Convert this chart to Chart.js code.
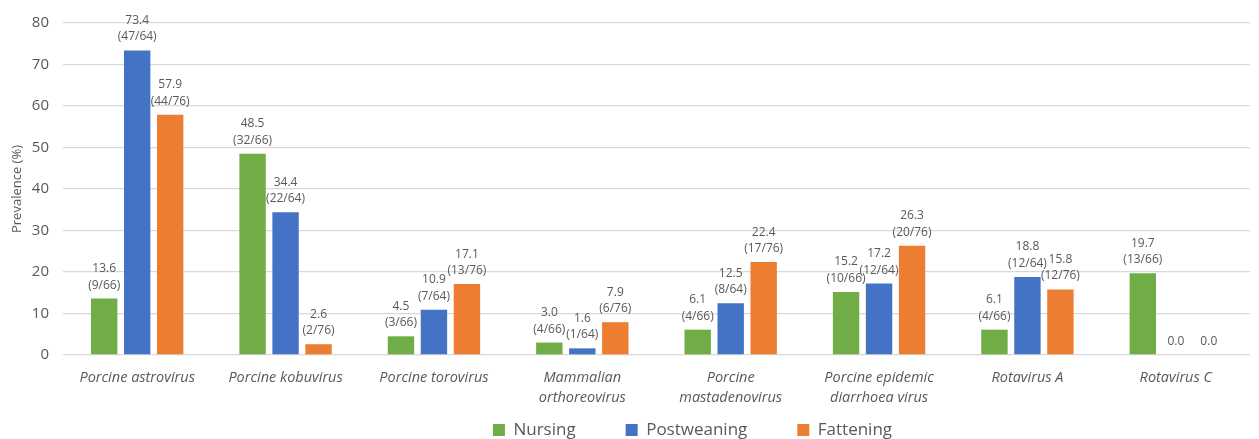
<!DOCTYPE html>
<html>
<head>
<meta charset="utf-8">
<script src="https://cdn.jsdelivr.net/npm/chart.js@4"></script>
<style>
  html, body { margin: 0; padding: 0; background: #ffffff; }
  #wrap { width: 1259px; height: 439px; }
</style>
</head>
<body>
<div id="wrap"><canvas id="chart" width="1259" height="439"></canvas></div>
<script>
// Viruses (x-axis categories), multi-line where the label wraps
const categories = [
  ['Porcine astrovirus'],
  ['Porcine kobuvirus'],
  ['Porcine torovirus'],
  ['Mammalian', 'orthoreovirus'],
  ['Porcine', 'mastadenovirus'],
  ['Porcine epidemic', 'diarrhoea virus'],
  ['Rotavirus A'],
  ['Rotavirus C']
];

// Prevalence (%) per age group
const nursing     = [13.6, 48.5, 4.5, 3.0, 6.1, 15.2, 6.1, 19.7];
const postweaning = [73.4, 34.4, 10.9, 1.6, 12.5, 17.2, 18.8, 0.0];
const fattening   = [57.9, 2.6, 17.1, 7.9, 22.4, 26.3, 15.8, 0.0];

// Positive / tested counts shown under each value
const nursingCounts     = ['9/66', '32/66', '3/66', '4/66', '4/66', '10/66', '4/66', '13/66'];
const postweaningCounts = ['47/64', '22/64', '7/64', '1/64', '8/64', '12/64', '12/64', ''];
const fatteningCounts   = ['44/76', '2/76', '13/76', '6/76', '17/76', '20/76', '12/76', ''];

const yTicks = [0, 10, 20, 30, 40, 50, 60, 70, 80];

const TEXT = '#595959';
const FONT = '"Open Sans", "Noto Sans", sans-serif';

// Two-line value labels above each bar
const barLabels = {
  id: 'barLabels',
  afterDatasetsDraw(chart) {
    const ctx = chart.ctx;
    ctx.save();
    ctx.font = '12px ' + FONT;
    ctx.fillStyle = TEXT;
    ctx.textAlign = 'center';
    ctx.textBaseline = 'alphabetic';
    chart.data.datasets.forEach((ds, di) => {
      const meta = chart.getDatasetMeta(di);
      meta.data.forEach((bar, i) => {
        const v = ds.data[i];
        const cnt = ds.counts[i];
        const x = bar.x;
        const base = bar.y - 10;
        if (cnt) {
          ctx.fillText('(' + cnt + ')', x, base);
          ctx.fillText(v.toFixed(1), x, base - 16.5);
        } else {
          ctx.fillText(v.toFixed(1), x, base);
        }
      });
    });
    ctx.restore();
  }
};

// Wide item spacing makes the legend box tall; pull it up and
// nudge the row right of the canvas centre
const legendPlace = {
  id: 'legendPlace',
  afterLayout(chart) {
    const lg = chart.legend;
    if (!lg) return;
    const h = lg.bottom - lg.top;
    lg.top = 371.5;
    lg.bottom = lg.top + h;
    lg.left += 134;
  }
};

new Chart(document.getElementById('chart'), {
  type: 'bar',
  data: {
    labels: categories,
    datasets: [
      { label: 'Nursing', data: nursing, counts: nursingCounts, backgroundColor: '#70ad47' },
      { label: 'Postweaning', data: postweaning, counts: postweaningCounts, backgroundColor: '#4472c4' },
      { label: 'Fattening', data: fattening, counts: fatteningCounts, backgroundColor: '#ed7d31' }
    ]
  },
  options: {
    responsive: false,
    animation: false,
    devicePixelRatio: 1,
    datasets: { bar: { categoryPercentage: 0.667, barPercentage: 0.8 } },
    layout: { padding: { top: 14, right: 9, left: 1, bottom: -55 } },
    plugins: {
      tooltip: { enabled: false },
      legend: {
        position: 'bottom',
        labels: {
          color: TEXT,
          font: { size: 17, family: FONT },
          boxWidth: 12,
          boxHeight: 12,
          padding: 50,
          useBorderRadius: false
        }
      }
    },
    scales: {
      x: {
        grid: { display: false },
        border: { display: false },
        ticks: {
          color: TEXT,
          padding: 5,
          maxRotation: 0,
          autoSkip: false,
          font: { size: 14.5, style: 'italic', family: FONT, lineHeight: 1.38 }
        },
        afterFit(scale) { scale.height = 62; }
      },
      y: {
        min: 0,
        max: 80,
        afterBuildTicks(scale) { scale.ticks = yTicks.map(v => ({ value: v })); },
        grid: { color: '#d9d9d9', lineWidth: 1.3, drawTicks: false },
        border: { display: false },
        ticks: {
          color: TEXT,
          padding: 14,
          font: { size: 15, family: FONT }
        },
        title: {
          display: true,
          text: 'Prevalence (%)',
          color: TEXT,
          padding: { top: 8, bottom: 0 },
          font: { size: 13, family: FONT }
        },
        afterFit(scale) { scale.width = 62; }
      }
    }
  },
  plugins: [barLabels, legendPlace]
});
</script>
</body>
</html>
